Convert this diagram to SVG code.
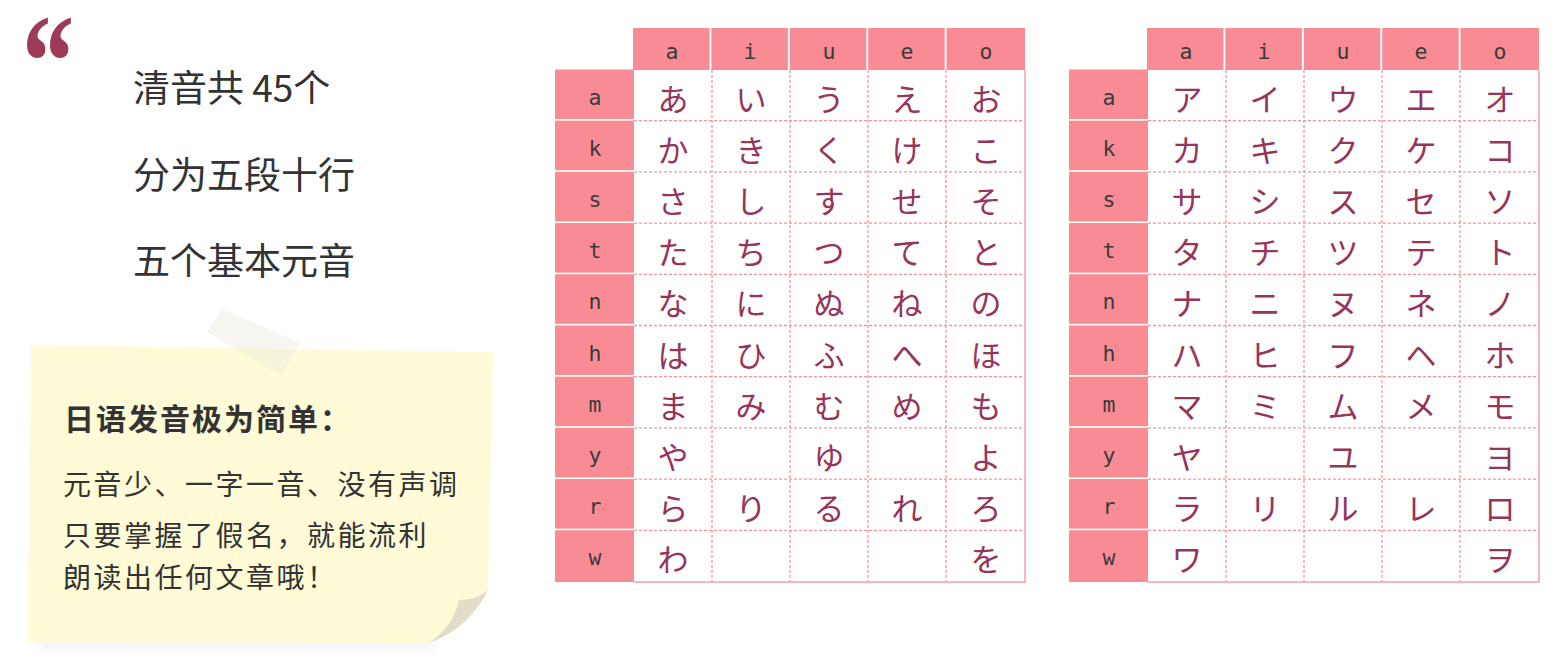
<svg xmlns="http://www.w3.org/2000/svg" width="1560" height="661" viewBox="0 0 1560 661">
<style>
.big{font-family:"Noto Sans CJK SC","Noto Sans",sans-serif;font-size:37px;fill:#333;}
.nt{font-family:"Noto Sans CJK SC","Noto Sans",sans-serif;font-size:28px;fill:#333;letter-spacing:2.5px;}
.nh{font-family:"Noto Sans CJK SC","Noto Sans",sans-serif;font-size:30px;font-weight:bold;fill:#333;letter-spacing:2px;}
.hd{fill:#f98b95;}
.lb{font-family:"DejaVu Sans Mono","Liberation Mono",monospace;font-size:21.5px;fill:#3a3a3a;text-anchor:middle;}
.kn{font-family:"Noto Sans CJK JP","Noto Sans CJK SC",sans-serif;font-size:31px;fill:#96345a;text-anchor:middle;}
.dl{stroke:#f7959f;stroke-width:1.3;stroke-dasharray:3 2;fill:none;}
.bd{stroke:#f7a0a8;stroke-width:1.5;fill:none;}
</style>
<defs>
<filter id="blur" x="-20%" y="-50%" width="140%" height="200%"><feGaussianBlur stdDeviation="5"/></filter>
<g id="tbl">
<rect x="634" y="70" width="391" height="512" fill="#fff"/>
<rect class="hd" x="633" y="28" width="76.5" height="42"/>
<rect class="hd" x="711.4" y="28" width="76.5" height="42"/>
<rect class="hd" x="789.8" y="28" width="76.5" height="42"/>
<rect class="hd" x="868.2" y="28" width="76.5" height="42"/>
<rect class="hd" x="946.6" y="28" width="78.4" height="42"/>
<text class="lb" x="672" y="58.5">a</text>
<text class="lb" x="750" y="58.5">i</text>
<text class="lb" x="829" y="58.5">u</text>
<text class="lb" x="907" y="58.5">e</text>
<text class="lb" x="986" y="58.5">o</text>
<rect class="hd" x="555" y="69.5" width="79" height="49.5"/>
<rect class="hd" x="555" y="120.7" width="79" height="49.5"/>
<rect class="hd" x="555" y="171.9" width="79" height="49.5"/>
<rect class="hd" x="555" y="223.1" width="79" height="49.5"/>
<rect class="hd" x="555" y="274.3" width="79" height="49.5"/>
<rect class="hd" x="555" y="325.5" width="79" height="49.5"/>
<rect class="hd" x="555" y="376.7" width="79" height="49.5"/>
<rect class="hd" x="555" y="427.9" width="79" height="49.5"/>
<rect class="hd" x="555" y="479.1" width="79" height="49.5"/>
<rect class="hd" x="555" y="530.3" width="79" height="51.7"/>
<text class="lb" x="595" y="104.5">a</text>
<text class="lb" x="595" y="155.7">k</text>
<text class="lb" x="595" y="206.9">s</text>
<text class="lb" x="595" y="258.1">t</text>
<text class="lb" x="595" y="309.3">n</text>
<text class="lb" x="595" y="360.5">h</text>
<text class="lb" x="595" y="411.7">m</text>
<text class="lb" x="595" y="462.9">y</text>
<text class="lb" x="595" y="514.1">r</text>
<text class="lb" x="595" y="565.3">w</text>
<path class="dl" d="M712,70V582M790,70V582M868,70V582M946,70V582"/>
<path class="dl" d="M634,120.7H1025M634,171.9H1025M634,223.1H1025M634,274.3H1025M634,325.5H1025M634,376.7H1025M634,427.9H1025M634,479.1H1025M634,530.3H1025"/>
<path class="bd" d="M1025,70V582H634"/>
</g>
</defs>

<g id="quote" transform="translate(22,0) scale(0.78,1)">
<text x="0" y="107" style="font-family:'Liberation Serif',serif;font-weight:bold;font-size:134px;fill:#9c3a58;">“</text>
</g>

<g id="summary">
<text class="big" x="133" y="102">清音共 45个</text>
<text class="big" x="133" y="189">分为五段十行</text>
<text class="big" x="133" y="275">五个基本元音</text>
</g>

<g id="sticky-note">
<path d="M40,640 L440,640 L430,650 L40,650 Z" fill="#000" opacity="0.05" filter="url(#blur)"/>
<path d="M31,345 L493,352 L488,590 C476,614 456,634 428,643 L28,642 Z" fill="#fefbd6"/>
<path d="M488,590 C480,597 470,600 459,600 C455,618 444,634 428,643 C456,634 476,614 488,590 Z" fill="#e2ddc8"/>
<path d="M222,309 L300,343 L281,375 L207,332 Z" fill="#ebe8dc" opacity="0.45"/>
<text class="nh" x="64" y="430">日语发音极为简单：</text>
<text class="nt" x="63" y="495">元音少、一字一音、没有声调</text>
<text class="nt" x="63" y="546">只要掌握了假名，就能流利</text>
<text class="nt" x="63" y="588">朗读出任何文章哦！</text>
</g>

<g id="hiragana-table">
<use href="#tbl"/>
<g>
<text class="kn" x="673" y="110.5">あ</text><text class="kn" x="751" y="110.5">い</text><text class="kn" x="829" y="110.5">う</text><text class="kn" x="907" y="110.5">え</text><text class="kn" x="986" y="110.5">お</text>
<text class="kn" x="673" y="161.7">か</text><text class="kn" x="751" y="161.7">き</text><text class="kn" x="829" y="161.7">く</text><text class="kn" x="907" y="161.7">け</text><text class="kn" x="986" y="161.7">こ</text>
<text class="kn" x="673" y="212.9">さ</text><text class="kn" x="751" y="212.9">し</text><text class="kn" x="829" y="212.9">す</text><text class="kn" x="907" y="212.9">せ</text><text class="kn" x="986" y="212.9">そ</text>
<text class="kn" x="673" y="264.1">た</text><text class="kn" x="751" y="264.1">ち</text><text class="kn" x="829" y="264.1">つ</text><text class="kn" x="907" y="264.1">て</text><text class="kn" x="986" y="264.1">と</text>
<text class="kn" x="673" y="315.3">な</text><text class="kn" x="751" y="315.3">に</text><text class="kn" x="829" y="315.3">ぬ</text><text class="kn" x="907" y="315.3">ね</text><text class="kn" x="986" y="315.3">の</text>
<text class="kn" x="673" y="366.5">は</text><text class="kn" x="751" y="366.5">ひ</text><text class="kn" x="829" y="366.5">ふ</text><text class="kn" x="907" y="366.5">へ</text><text class="kn" x="986" y="366.5">ほ</text>
<text class="kn" x="673" y="417.7">ま</text><text class="kn" x="751" y="417.7">み</text><text class="kn" x="829" y="417.7">む</text><text class="kn" x="907" y="417.7">め</text><text class="kn" x="986" y="417.7">も</text>
<text class="kn" x="673" y="468.9">や</text><text class="kn" x="829" y="468.9">ゆ</text><text class="kn" x="986" y="468.9">よ</text>
<text class="kn" x="673" y="520.1">ら</text><text class="kn" x="751" y="520.1">り</text><text class="kn" x="829" y="520.1">る</text><text class="kn" x="907" y="520.1">れ</text><text class="kn" x="986" y="520.1">ろ</text>
<text class="kn" x="673" y="571.3">わ</text><text class="kn" x="986" y="571.3">を</text>
</g>
</g>

<g id="katakana-table">
<use href="#tbl" x="514"/>
<g transform="translate(514,0)">
<text class="kn" x="673" y="110.5">ア</text><text class="kn" x="751" y="110.5">イ</text><text class="kn" x="829" y="110.5">ウ</text><text class="kn" x="907" y="110.5">エ</text><text class="kn" x="986" y="110.5">オ</text>
<text class="kn" x="673" y="161.7">カ</text><text class="kn" x="751" y="161.7">キ</text><text class="kn" x="829" y="161.7">ク</text><text class="kn" x="907" y="161.7">ケ</text><text class="kn" x="986" y="161.7">コ</text>
<text class="kn" x="673" y="212.9">サ</text><text class="kn" x="751" y="212.9">シ</text><text class="kn" x="829" y="212.9">ス</text><text class="kn" x="907" y="212.9">セ</text><text class="kn" x="986" y="212.9">ソ</text>
<text class="kn" x="673" y="264.1">タ</text><text class="kn" x="751" y="264.1">チ</text><text class="kn" x="829" y="264.1">ツ</text><text class="kn" x="907" y="264.1">テ</text><text class="kn" x="986" y="264.1">ト</text>
<text class="kn" x="673" y="315.3">ナ</text><text class="kn" x="751" y="315.3">ニ</text><text class="kn" x="829" y="315.3">ヌ</text><text class="kn" x="907" y="315.3">ネ</text><text class="kn" x="986" y="315.3">ノ</text>
<text class="kn" x="673" y="366.5">ハ</text><text class="kn" x="751" y="366.5">ヒ</text><text class="kn" x="829" y="366.5">フ</text><text class="kn" x="907" y="366.5">ヘ</text><text class="kn" x="986" y="366.5">ホ</text>
<text class="kn" x="673" y="417.7">マ</text><text class="kn" x="751" y="417.7">ミ</text><text class="kn" x="829" y="417.7">ム</text><text class="kn" x="907" y="417.7">メ</text><text class="kn" x="986" y="417.7">モ</text>
<text class="kn" x="673" y="468.9">ヤ</text><text class="kn" x="829" y="468.9">ユ</text><text class="kn" x="986" y="468.9">ヨ</text>
<text class="kn" x="673" y="520.1">ラ</text><text class="kn" x="751" y="520.1">リ</text><text class="kn" x="829" y="520.1">ル</text><text class="kn" x="907" y="520.1">レ</text><text class="kn" x="986" y="520.1">ロ</text>
<text class="kn" x="673" y="571.3">ワ</text><text class="kn" x="986" y="571.3">ヲ</text>
</g>
</g>
</svg>
